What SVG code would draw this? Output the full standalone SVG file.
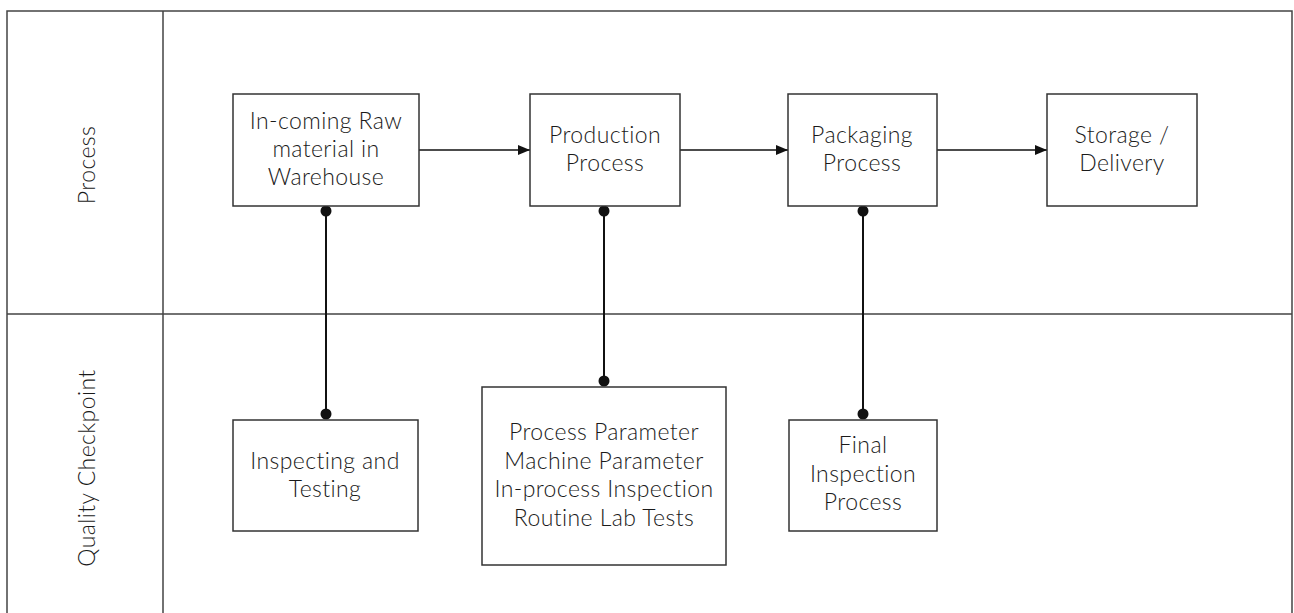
<svg xmlns="http://www.w3.org/2000/svg" width="1294" height="613" viewBox="0 0 1294 613">
<defs>
<style>
.frame{fill:none;stroke:#444;stroke-width:1.5}
.box{fill:#fff;stroke:#333;stroke-width:1.5}
.t{font-family:Lato,"Open Sans",sans-serif;font-size:23px;font-weight:300;letter-spacing:0.4px;fill:#1a1a1a;text-anchor:middle}
.conn{stroke:#111;stroke-width:2;fill:none}
.flow{stroke:#111;stroke-width:1.5;fill:none;marker-end:url(#arr)}
.dot{fill:#111}
</style>
<marker id="arr" viewBox="0 0 12 10" refX="12" refY="5" markerWidth="12" markerHeight="10" markerUnits="userSpaceOnUse" orient="auto">
<path d="M0,0 L12,5 L0,10 z" fill="#111"/>
</marker>
</defs>
<rect width="1294" height="613" fill="#fff"/>
<g id="lanes">
<path class="frame" d="M7,613 V11 H1292 V613 M163,11 V613 M7,314 H1292"/>
<text class="t" transform="translate(86,165) rotate(-90)" dominant-baseline="central">Process</text>
<text class="t" transform="translate(86,468) rotate(-90)" dominant-baseline="central">Quality Checkpoint</text>
</g>
<g id="connectors">
<line class="flow" x1="419" y1="150" x2="530" y2="150"/>
<line class="flow" x1="680" y1="150" x2="788" y2="150"/>
<line class="flow" x1="937" y1="150" x2="1047" y2="150"/>
<line class="conn" x1="326" y1="211" x2="326" y2="414"/>
<circle class="dot" cx="326" cy="211" r="5.5"/>
<circle class="dot" cx="326" cy="414" r="5.5"/>
<line class="conn" x1="604" y1="211" x2="604" y2="381"/>
<circle class="dot" cx="604" cy="211" r="5.5"/>
<circle class="dot" cx="604" cy="381" r="5.5"/>
<line class="conn" x1="863" y1="211" x2="863" y2="414"/>
<circle class="dot" cx="863" cy="211" r="5.5"/>
<circle class="dot" cx="863" cy="414" r="5.5"/>
</g>
<g id="n1">
<rect class="box" x="233" y="94" width="186" height="112"/>
<text class="t" x="326" y="129">In-coming Raw</text>
<text class="t" x="326" y="157">material in</text>
<text class="t" x="326" y="185">Warehouse</text>
</g>
<g id="n2">
<rect class="box" x="530" y="94" width="150" height="112"/>
<text class="t" x="605" y="143">Production</text>
<text class="t" x="605" y="171">Process</text>
</g>
<g id="n3">
<rect class="box" x="788" y="94" width="149" height="112"/>
<text class="t" x="862" y="143">Packaging</text>
<text class="t" x="862" y="171">Process</text>
</g>
<g id="n4">
<rect class="box" x="1047" y="94" width="150" height="112"/>
<text class="t" x="1122" y="143">Storage /</text>
<text class="t" x="1122" y="171">Delivery</text>
</g>
<g id="n5">
<rect class="box" x="233" y="420" width="185" height="111"/>
<text class="t" x="325" y="469">Inspecting and</text>
<text class="t" x="325" y="497">Testing</text>
</g>
<g id="n6">
<rect class="box" x="482" y="387" width="244" height="178"/>
<text class="t" x="604" y="440">Process Parameter</text>
<text class="t" x="604" y="469">Machine Parameter</text>
<text class="t" x="604" y="497">In-process Inspection</text>
<text class="t" x="604" y="526">Routine Lab Tests</text>
</g>
<g id="n7">
<rect class="box" x="789" y="420" width="148" height="111"/>
<text class="t" x="863" y="453">Final</text>
<text class="t" x="863" y="482">Inspection</text>
<text class="t" x="863" y="510">Process</text>
</g>
</svg>
